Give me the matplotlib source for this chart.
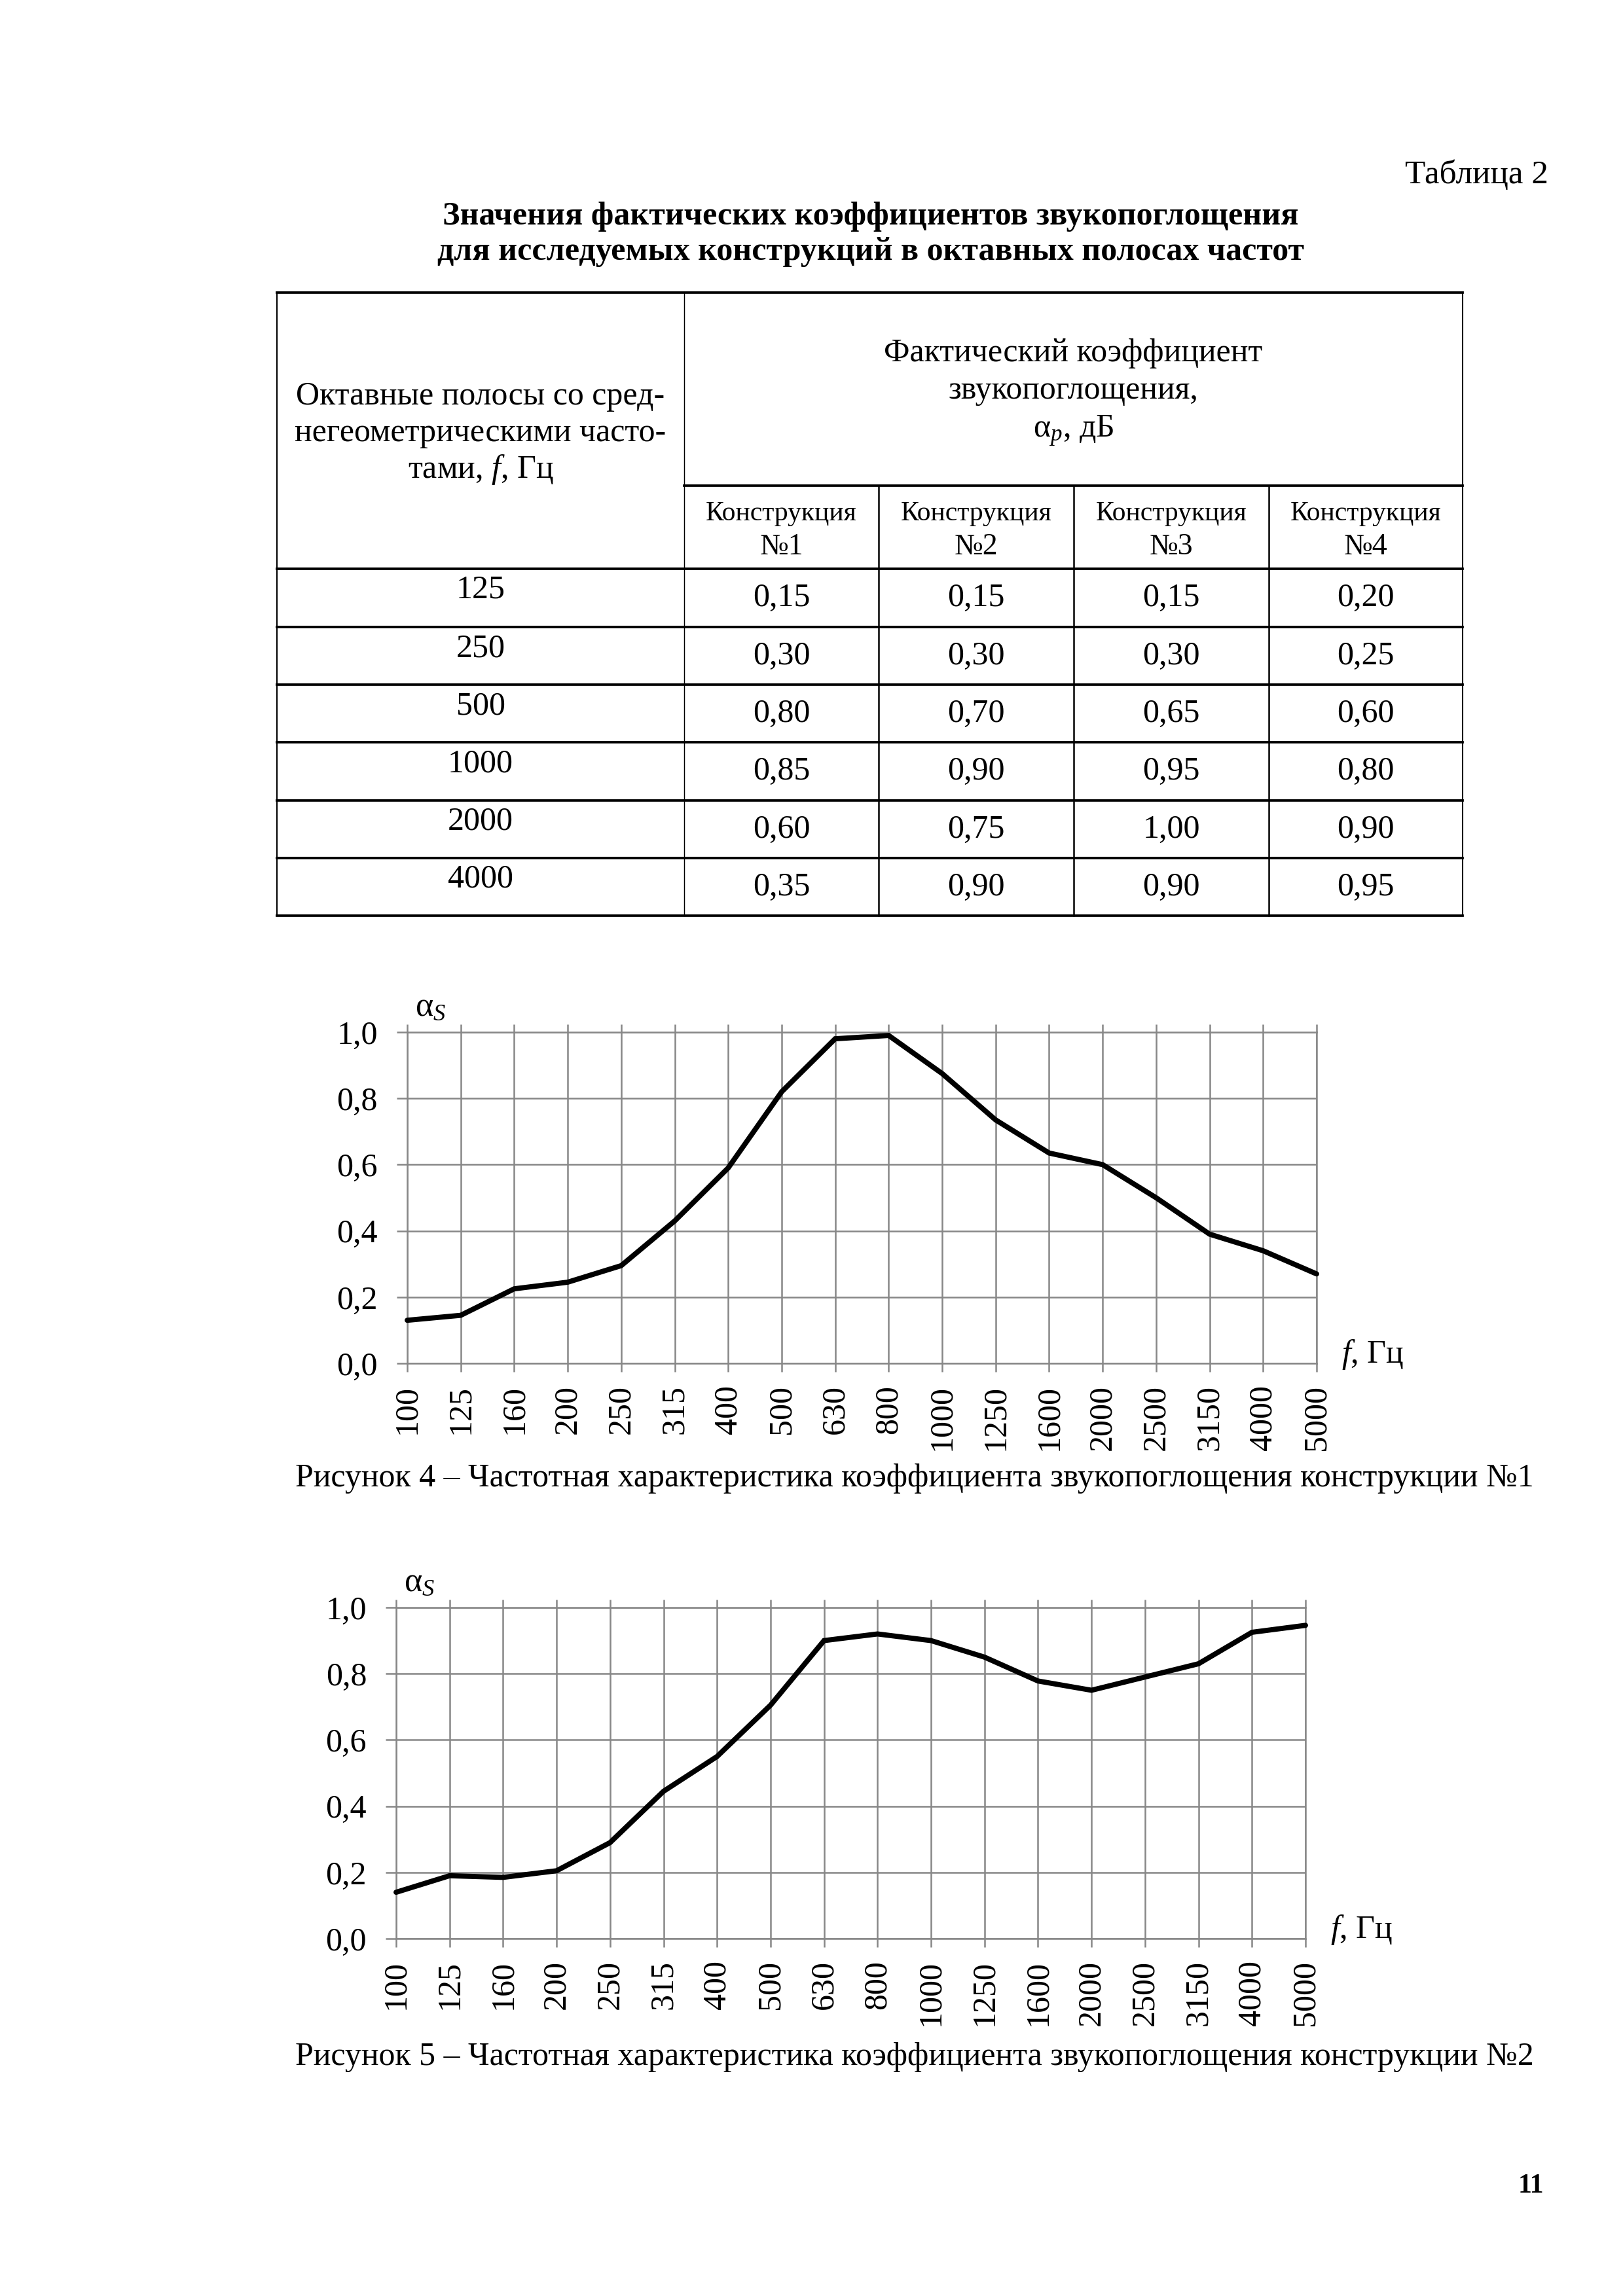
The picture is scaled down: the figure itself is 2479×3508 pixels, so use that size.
import matplotlib
matplotlib.use('Agg')
import matplotlib.pyplot as plt
from matplotlib.ticker import FuncFormatter

# page size (A4 at 300 dpi)
W, H = 2479, 3508
DPI = 300

# ---- table 2 data ----
octave_bands = ['125', '250', '500', '1000', '2000', '4000']
construction_names = ['№1', '№2', '№3', '№4']
coef_1 = [0.15, 0.30, 0.80, 0.85, 0.60, 0.35]
coef_2 = [0.15, 0.30, 0.70, 0.90, 0.75, 0.90]
coef_3 = [0.15, 0.30, 0.65, 0.95, 1.00, 0.90]
coef_4 = [0.20, 0.25, 0.60, 0.80, 0.90, 0.95]

# ---- figure 4 / 5 data (third-octave bands) ----
third_octave = ['100', '125', '160', '200', '250', '315', '400', '500', '630',
                '800', '1000', '1250', '1600', '2000', '2500', '3150', '4000', '5000']
alpha_1 = [0.13, 0.145, 0.225, 0.245, 0.295, 0.43, 0.59, 0.82, 0.98,
           0.99, 0.875, 0.735, 0.635, 0.60, 0.50, 0.39, 0.34, 0.27]
alpha_2 = [0.14, 0.19, 0.185, 0.205, 0.29, 0.445, 0.55, 0.705, 0.90,
           0.92, 0.90, 0.85, 0.778, 0.75, 0.79, 0.83, 0.925, 0.946]

plt.rcParams['font.family'] = ['Liberation Serif', 'DejaVu Serif']
plt.rcParams['mathtext.fontset'] = 'custom'
plt.rcParams['mathtext.rm'] = 'Liberation Serif'
plt.rcParams['mathtext.it'] = 'Liberation Serif:italic'

FS = 12
GRID = '#878787'

fig = plt.figure(figsize=(W / DPI, H / DPI), dpi=DPI)
fig.patch.set_facecolor('white')

# page axes in pixel coordinates for the table and the text
page = fig.add_axes([0, 0, 1, 1])
page.set_xlim(0, W)
page.set_ylim(H, 0)
page.axis('off')


def fmt(v):
    return '{:.2f}'.format(v).replace('.', ',')


page.text(2365, 280, 'Таблица 2', ha='right', va='baseline', fontsize=FS + 0.3)
page.text(1330, 343, 'Значения фактических коэффициентов звукопоглощения',
          ha='center', va='baseline', fontsize=FS, fontweight='bold')
page.text(1330, 397, 'для исследуемых конструкций в октавных полосах частот',
          ha='center', va='baseline', fontsize=FS, fontweight='bold')

# table grid
x_left, x_mid, x_right = 423, 1045, 2234
col_x = [1045, 1342, 1640, 1938, 2234]
y_top, y_sub, y_head = 447, 742, 869
row_y = [869, 958, 1046, 1134, 1223, 1311, 1399]

page.plot([x_left, x_right], [y_top, y_top], color='black', lw=0.9)
page.plot([x_mid, x_right], [y_sub, y_sub], color='black', lw=0.9)
for y in row_y:
    page.plot([x_left, x_right], [y, y], color='black', lw=0.9)
page.plot([x_left, x_left], [y_top, row_y[-1]], color='black', lw=0.5)
page.plot([x_right, x_right], [y_top, row_y[-1]], color='black', lw=0.5)
page.plot([x_mid, x_mid], [y_top, row_y[-1]], color='black', lw=0.35)
for x in col_x[1:-1]:
    page.plot([x, x], [y_sub, row_y[-1]], color='black', lw=0.6)

c1 = (x_left + x_mid) / 2
for txt, y in zip(['Октавные полосы со сред-', 'негеометрическими часто-',
                   'тами, $f$, Гц'], [618, 674, 730]):
    page.text(c1, y, txt, ha='center', va='baseline', fontsize=FS)
c2 = (x_mid + x_right) / 2
for txt, y in zip(['Фактический коэффициент', 'звукопоглощения,',
                   'α$_p$, дБ'], [552, 609, 668]):
    page.text(c2, y, txt, ha='center', va='baseline', fontsize=FS)

for i, name in enumerate(construction_names):
    cx = (col_x[i] + col_x[i + 1]) / 2
    page.text(cx, 795, 'Конструкция', ha='center', va='baseline', fontsize=FS - 2)
    page.text(cx, 847, name, ha='center', va='baseline', fontsize=FS - 1)

columns = [coef_1, coef_2, coef_3, coef_4]
for r, band in enumerate(octave_bands):
    top = row_y[r]
    page.text(c1, top + 45, band, ha='center', va='baseline', fontsize=FS)
    for i, col in enumerate(columns):
        cx = (col_x[i] + col_x[i + 1]) / 2
        page.text(cx, top + 57, fmt(col[r]), ha='center', va='baseline', fontsize=FS)


def draw_chart(left, right, top, bottom, values, caption, cap_y):
    ax = fig.add_axes([left / W, 1 - bottom / H, (right - left) / W, (bottom - top) / H])
    x = list(range(len(third_octave)))
    ax.plot(x, values, color='black', lw=1.9, solid_capstyle='round',
            solid_joinstyle='miter', clip_on=False, zorder=5)
    ax.set_xlim(0, len(third_octave) - 1)
    ax.set_ylim(0, 1.0)
    ax.set_xticks(x)
    ax.set_xticklabels(third_octave, rotation=90, fontsize=FS)
    ax.set_yticks([0, 0.2, 0.4, 0.6, 0.8, 1.0])
    ax.yaxis.set_major_formatter(FuncFormatter(lambda v, p: '{:.1f}'.format(v).replace('.', ',')))
    ax.tick_params(axis='y', labelsize=FS, pad=7, length=3.8)
    ax.tick_params(axis='x', pad=5, length=3)
    ax.tick_params(axis='both', direction='out', color=GRID, width=0.6, top=True, labeltop=False)
    ax.grid(True, color=GRID, lw=0.6)
    for s in ax.spines.values():
        s.set_color(GRID)
        s.set_linewidth(0.6)
    ax.set_axisbelow(True)

    page.text(left + 12, top - 25, 'α$_S$', ha='left', va='baseline', fontsize=FS + 0.5)
    page.text(right + 38, bottom - 1, '$f$, Гц', ha='left', va='baseline', fontsize=FS)
    page.text(1397, cap_y, caption, ha='center', va='baseline', fontsize=FS)
    return ax


draw_chart(622, 2011, 1577, 2083, alpha_1,
           'Рисунок 4 – Частотная характеристика коэффициента звукопоглощения конструкции №1', 2271)
draw_chart(605, 1994, 2456, 2962, alpha_2,
           'Рисунок 5 – Частотная характеристика коэффициента звукопоглощения конструкции №2', 3155)

page.text(2358, 3350, '11', ha='right', va='baseline', fontsize=FS - 2, fontweight='bold')

fig.savefig('out.png', dpi=DPI, facecolor='white')
